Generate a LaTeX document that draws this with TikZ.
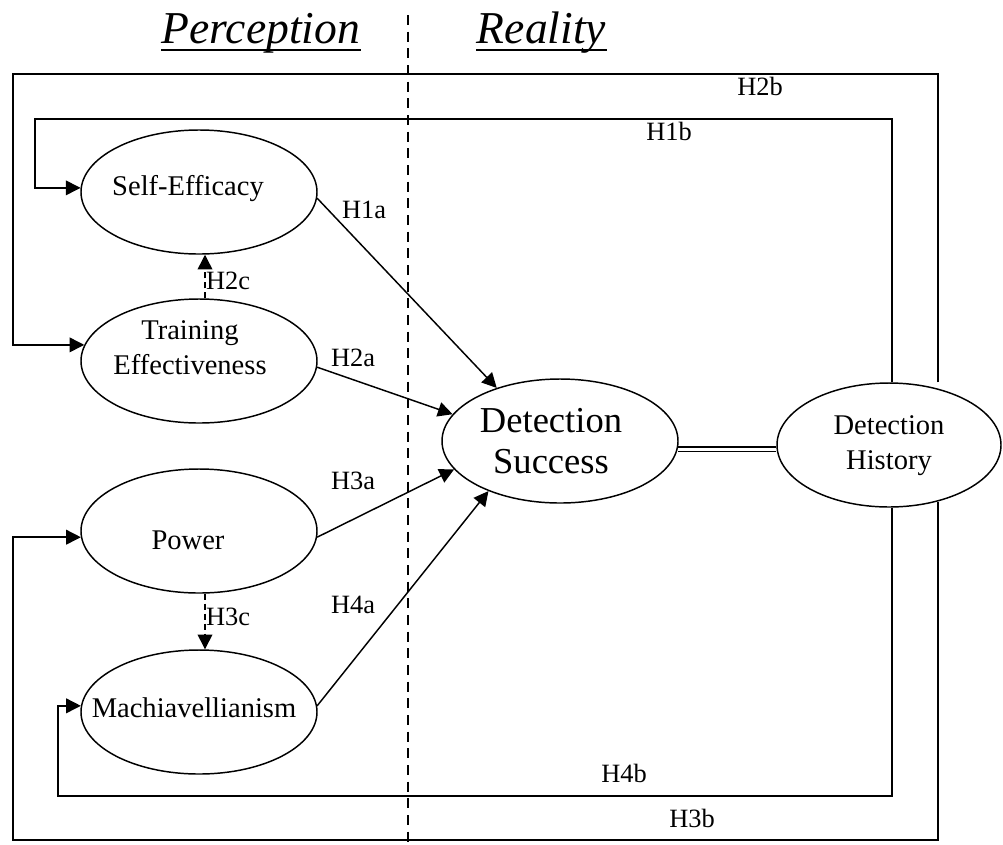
\documentclass[tikz,border=0pt]{standalone}
\usepackage{fontspec}
\setmainfont{Liberation Serif}
\usetikzlibrary{arrows.meta,calc,shapes.geometric}
% place the text of a node: #1 = twice the shift to the left, #2 = shift up
\newcommand\placetext[3]{\raisebox{#2}[\height][\depth]{\makebox[0pt]{#3}\hspace*{#1}}}
\newcommand\twolines[2]{\begin{tabular}{@{}c@{}}#1\\#2\end{tabular}}

\begin{document}
\begin{tikzpicture}[x=0.75pt,y=-0.75pt,
  line width=1.1pt,
  construct/.style={ellipse, draw, fill=white, inner sep=0pt,
    minimum width=177pt, minimum height=93pt, align=center,
    font=\fontsize{21.4}{26}\selectfont},
  arr/.style={-{Triangle[length=11pt,width=11pt]}},
  dasharr/.style={arr, dash pattern=on 4.5pt off 3pt},
  hyp/.style={inner sep=0pt, font=\fontsize{19.8}{22}\selectfont},
  heading/.style={inner sep=0pt, anchor=base, font=\fontsize{34.2}{40}\selectfont\itshape},
  link/.style={double, line width=1.2pt, double distance=2pt},
  divider/.style={dash pattern=on 7.5pt off 5pt, line width=1pt}
]
\useasboundingbox (0,0) rectangle (1003,844);

% headings and the dividing line
\node[heading] (perc) at (261,43) {Perception};
\node[heading] (real) at (541.5,43) {Reality};
\draw[line width=1.6pt] ([yshift=-5.5pt]perc.base west) -- ([yshift=-5.5pt]perc.base east);
\draw[line width=1.6pt] ([yshift=-5.5pt]real.base west) -- ([yshift=-5.5pt]real.base east);
\coordinate (divtop) at (408,15);
\coordinate (divbot) at (408,844);
\draw[divider] (divtop) -- (divbot);

% constructs
\node[construct] (se) at (199,192) {\placetext{16.5pt}{2.5pt}{Self-Efficacy}};
\node[construct] (te) at (199,361) {\placetext{13.5pt}{8pt}{\twolines{Training}{Effectiveness}}};
\node[construct] (pw) at (199,531) {\placetext{16.5pt}{-7pt}{Power}};
\node[construct] (ma) at (199,712) {\placetext{7.5pt}{3.5pt}{Machiavellianism}};
\node[construct, font=\fontsize{27.4}{30.8}\selectfont] (ds) at (560,441)
  {\placetext{13.5pt}{-2.5pt}{\twolines{Detection}{Success}}};
\node[construct, minimum width=168pt] (dh) at (889,445)
  {\placetext{0pt}{0pt}{\twolines{Detection}{History}}};

% direct effects
\draw[arr] (se.357) -- (ds.140);
\draw[arr] (te.357) -- (ds.166);
\draw[arr] (pw.357) -- (ds.195);
\draw[arr] (ma.3) -- (ds.215);
\draw[dasharr] ($(te.north)+(6,0)$) -- ($(se.south)+(6,0)$);
\draw[dasharr] ($(pw.south)+(6,0)$) -- ($(ma.north)+(6,0)$);
\draw[link] (ds.356) -- (ds.356 -| dh.west);

% feedback paths from detection history
\coordinate (xi) at (892,0);
\coordinate (xo) at (938,0);
\coordinate (c1) at (35,119);
\coordinate (c2) at (13,74);
\coordinate (c3) at (58,796);
\coordinate (c4) at (13,840);
\draw[arr] (xi |- dh.north) |- (c1) |- (se.178);
\draw[arr] (xo |- dh.north) |- (c2) |- (te.172);
\draw[arr] (xi |- dh.south) |- (c3) |- (ma.177);
\draw[arr] (xo |- dh.310) |- (c4) |- (pw.183);

% hypothesis labels
\node[hyp] (h1a) at (364,210) {H1a};
\node[hyp] (h2a) at (353,358) {H2a};
\node[hyp] (h3a) at (353,481) {H3a};
\node[hyp] (h4a) at (353,605) {H4a};
\node[hyp] (h2c) at (228,281) {H2c};
\node[hyp] (h3c) at (228,617) {H3c};
\node[hyp] (h1b) at (669,131) {H1b};
\node[hyp] (h2b) at (760,86) {H2b};
\node[hyp] (h4b) at (624,773) {H4b};
\node[hyp] (h3b) at (692,818) {H3b};
\end{tikzpicture}
\end{document}
